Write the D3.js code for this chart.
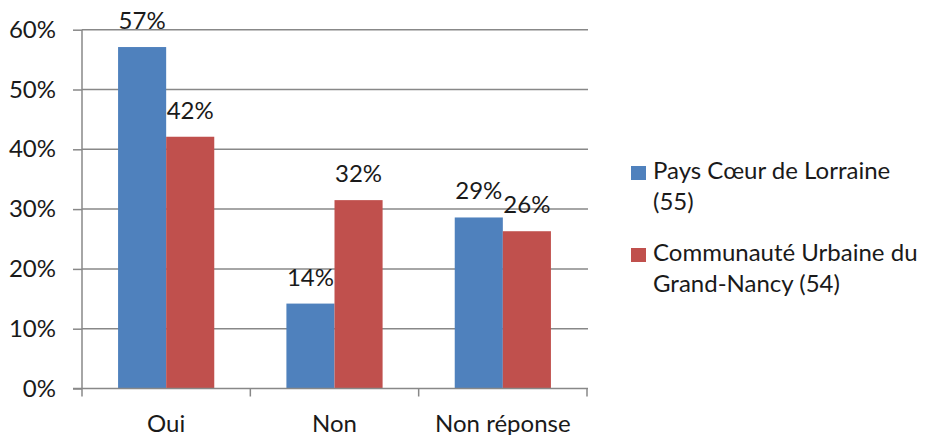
<!DOCTYPE html>
<html>
<head>
<meta charset="utf-8">
<script src="https://cdn.jsdelivr.net/npm/d3@7"></script>
<style>
  body { margin: 0; background: #fff; }
  text { font-family: Lato, "Open Sans", sans-serif; fill: #1a1a1a; }
</style>
</head>
<body>
<div id="chart"></div>
<script>
// data
var categories = ["Oui", "Non", "Non réponse"];
var seriesNames = ["Pays Cœur de Lorraine (55)", "Communauté Urbaine du Grand-Nancy (54)"];
var legendLines = [["Pays Cœur de Lorraine", "(55)"], ["Communauté Urbaine du", "Grand-Nancy (54)"]];
var paysValues = [0.571, 0.142, 0.286];
var grandNancyValues = [0.421, 0.315, 0.263];
var yTicks = [0, 0.1, 0.2, 0.3, 0.4, 0.5, 0.6];
var colors = ["#4F81BD", "#C0504D"];

var width = 928, height = 435;
var margin = { top: 29.7, left: 82, right: 341, bottom: 46.5 };
var fontSize = 24;

var svg = d3.select("#chart").append("svg")
    .attr("width", width)
    .attr("height", height);

var x0 = d3.scaleBand()
    .domain(categories)
    .range([margin.left, width - margin.right]);

var x1 = d3.scaleBand()
    .domain(d3.range(seriesNames.length))
    .range([0, x0.bandwidth()])
    .paddingOuter(0.75);

var y = d3.scaleLinear()
    .domain([0, 0.6])
    .range([height - margin.bottom, margin.top]);

// Gridlines
svg.append("g")
    .selectAll("line")
    .data(yTicks.slice(1))
    .enter().append("line")
    .attr("x1", margin.left)
    .attr("x2", width - margin.right + 1)
    .attr("y1", function (d) { return y(d); })
    .attr("y2", function (d) { return y(d); })
    .attr("stroke", "#888")
    .attr("stroke-width", 1.5);

// Bars
var rows = categories.map(function (c, i) {
    return [paysValues[i], grandNancyValues[i]];
});

var group = svg.append("g").selectAll("g")
    .data(rows)
    .enter().append("g")
    .attr("transform", function (d, i) { return "translate(" + x0(categories[i]) + ",0)"; });

group.selectAll("rect")
    .data(function (d) { return d; })
    .enter().append("rect")
    .attr("x", function (d, j) { return x1(j); })
    .attr("y", function (d) { return y(d); })
    .attr("width", x1.bandwidth())
    .attr("height", function (d) { return y(0) - y(d); })
    .attr("fill", function (d, j) { return colors[j]; });

group.selectAll("text")
    .data(function (d) { return d; })
    .enter().append("text")
    .attr("x", function (d, j) { return x1(j) + x1.bandwidth() / 2; })
    .attr("y", function (d) { return y(d) - 18; })
    .attr("text-anchor", "middle")
    .style("font-size", fontSize + "px")
    .text(function (d) { return Math.round(d * 100) + "%"; });

// Left axis
var yAxis = svg.append("g")
    .attr("transform", "translate(" + margin.left + ",0)")
    .call(d3.axisLeft(y)
        .tickValues(yTicks)
        .tickFormat(d3.format(".0%"))
        .tickSize(9)
        .tickPadding(17));
yAxis.select(".domain").attr("stroke", "#888").attr("stroke-width", 1.5)
    .attr("d", "M0," + y(0) + "V" + y(0.6));
yAxis.selectAll(".tick line").attr("stroke", "#888").attr("stroke-width", 1.5);
yAxis.selectAll(".tick text").style("font-size", fontSize + "px")
    .style("font-family", "Lato, sans-serif").attr("fill", "#1a1a1a");

// Bottom axis
var xAxis = svg.append("g")
    .attr("transform", "translate(0," + y(0) + ")");
xAxis.append("line")
    .attr("x1", margin.left - 9)
    .attr("x2", width - margin.right + 1)
    .attr("stroke", "#888")
    .attr("stroke-width", 1.5);
var bounds = categories.map(function (c) { return x0(c); }).concat([x0.range()[1]]);
xAxis.selectAll(".bt")
    .data(bounds)
    .enter().append("line")
    .attr("class", "bt")
    .attr("x1", function (d) { return d; })
    .attr("x2", function (d) { return d; })
    .attr("y1", 0)
    .attr("y2", 8)
    .attr("stroke", "#888")
    .attr("stroke-width", 1.5);
xAxis.selectAll(".cat")
    .data(categories)
    .enter().append("text")
    .attr("class", "cat")
    .attr("x", function (d) { return x0(d) + x0.bandwidth() / 2; })
    .attr("y", 43)
    .attr("text-anchor", "middle")
    .style("font-size", fontSize + "px")
    .text(function (d) { return d; });

// Legend
var legend = svg.append("g").selectAll("g")
    .data(legendLines)
    .enter().append("g")
    .attr("transform", function (d, i) { return "translate(631," + (179 + i * 82) + ")"; });

legend.append("rect")
    .attr("x", 0)
    .attr("y", -13)
    .attr("width", 15)
    .attr("height", 14)
    .attr("fill", function (d, i) { return colors[i]; });

legend.each(function (lines) {
    var t = d3.select(this).append("text")
        .attr("x", 22)
        .attr("y", 0)
        .style("font-size", fontSize + "px");
    t.selectAll("tspan")
        .data(lines)
        .enter().append("tspan")
        .attr("x", 22)
        .attr("dy", function (d, k) { return k === 0 ? 0 : 31; })
        .text(function (d) { return d; });
});
</script>
</body>
</html>
